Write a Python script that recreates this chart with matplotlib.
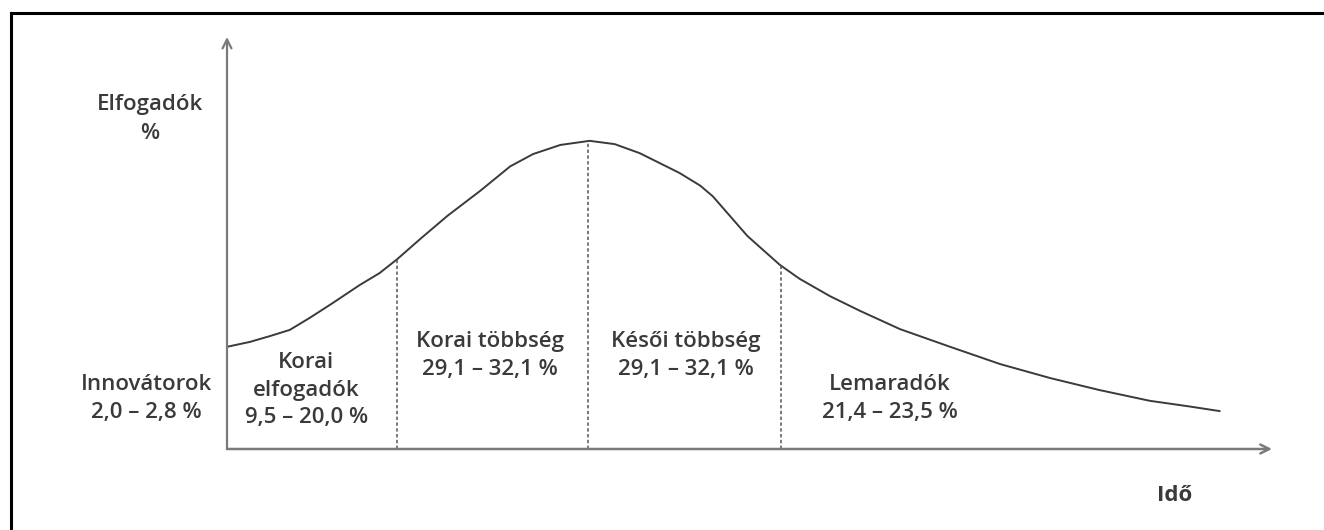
"""
Rogers-féle innováció-terjedési görbe (elfogadók aránya az idő függvényében)
"""
import matplotlib
matplotlib.use("Agg")
import matplotlib.pyplot as plt
from matplotlib.lines import Line2D

plt.rcParams['font.family'] = ['Open Sans', 'DejaVu Sans']

# curve: time (0-100) vs adopters (0-100)
ido = [0.0, 2.2, 4.1, 6.0, 7.9, 10.1, 12.7, 14.6, 16.3, 18.5, 21.1, 24.2, 27.1,
       29.3, 31.9, 34.7, 37.1, 39.5, 43.3, 45.3, 46.5, 49.8, 52.9, 54.8, 57.7,
       60.6, 64.4, 69.2, 74.0, 78.8, 83.5, 88.3, 91.9, 95.0]
elfogadok = [24.8, 26.0, 27.4, 28.9, 31.8, 35.4, 39.8, 42.7, 46.1, 51.0, 56.6,
             62.6, 68.6, 71.6, 73.8, 74.8, 74.0, 71.8, 67.0, 63.9, 61.3, 51.7,
             44.7, 41.3, 37.1, 33.5, 29.1, 24.8, 20.6, 17.2, 14.3, 11.7, 10.4, 9.2]

# segment boundaries (dashed lines) and the curve height there
hatarok = [16.3, 34.5, 53.0]
hatar_magassag = [46.1, 74.8, 44.7]

# group labels
csoportok = ["Innovátorok\n2,0 – 2,8 %",
             "Korai\nelfogadók\n9,5 – 20,0 %",
             "Korai többség\n29,1 – 32,1 %",
             "Késői többség\n29,1 – 32,1 %",
             "Lemaradók\n21,4 – 23,5 %"]
csoport_x = [-7.7, 7.6, 25.2, 43.9, 63.4]
csoport_y = [12.3, 14.3, 22.7, 22.7, 12.3]

szin = "#3a3a3a"
tengely = "#7a7a7a"

fig = plt.figure(figsize=(13.24, 5.30), dpi=100)
ax = fig.add_axes([227 / 1324, 81 / 530, 1045 / 1324, 412 / 530])
ax.set_xlim(0, 100)
ax.set_ylim(0, 100)
ax.axis("off")

ax.plot(ido, elfogadok, color=szin, lw=1.4, solid_capstyle="round")
ax.vlines(hatarok, 0, hatar_magassag, colors="#555555", lw=1.1,
          linestyles=(0, (2.2, 1.6)))

# axes with open arrowheads
ax.annotate("", xy=(0, 1), xytext=(0, 0), xycoords="axes fraction",
            arrowprops=dict(arrowstyle="->", color=tengely, lw=1.6,
                            mutation_scale=16, shrinkA=0, shrinkB=0))
ax.annotate("", xy=(1, 0), xytext=(0, 0), xycoords="axes fraction",
            arrowprops=dict(arrowstyle="->", color=tengely, lw=1.8,
                            mutation_scale=16, shrinkA=0, shrinkB=0))

for szoveg, x, y in zip(csoportok, csoport_x, csoport_y):
    ax.text(x, y, szoveg, ha="center", va="center", fontsize=16,
            color=szin, fontweight="semibold", linespacing=1.42,
            clip_on=False)

ax.text(-7.4, 80.1, "Elfogadók\n%", ha="center", va="center", fontsize=16,
        color=szin, fontweight="semibold", linespacing=1.45, clip_on=False)
ax.text(90.7, -11.2, "Idő", ha="center", va="center", fontsize=16,
        color=szin, fontweight="bold", clip_on=False)

# frame of the original figure (top and left edge)
fig.add_artist(Line2D([11 / 1324, 1], [517 / 530, 517 / 530],
                      color="black", lw=2.2))
fig.add_artist(Line2D([11 / 1324, 11 / 1324], [0, 517 / 530],
                      color="black", lw=2.2))

fig.savefig("out.png", dpi=100)
